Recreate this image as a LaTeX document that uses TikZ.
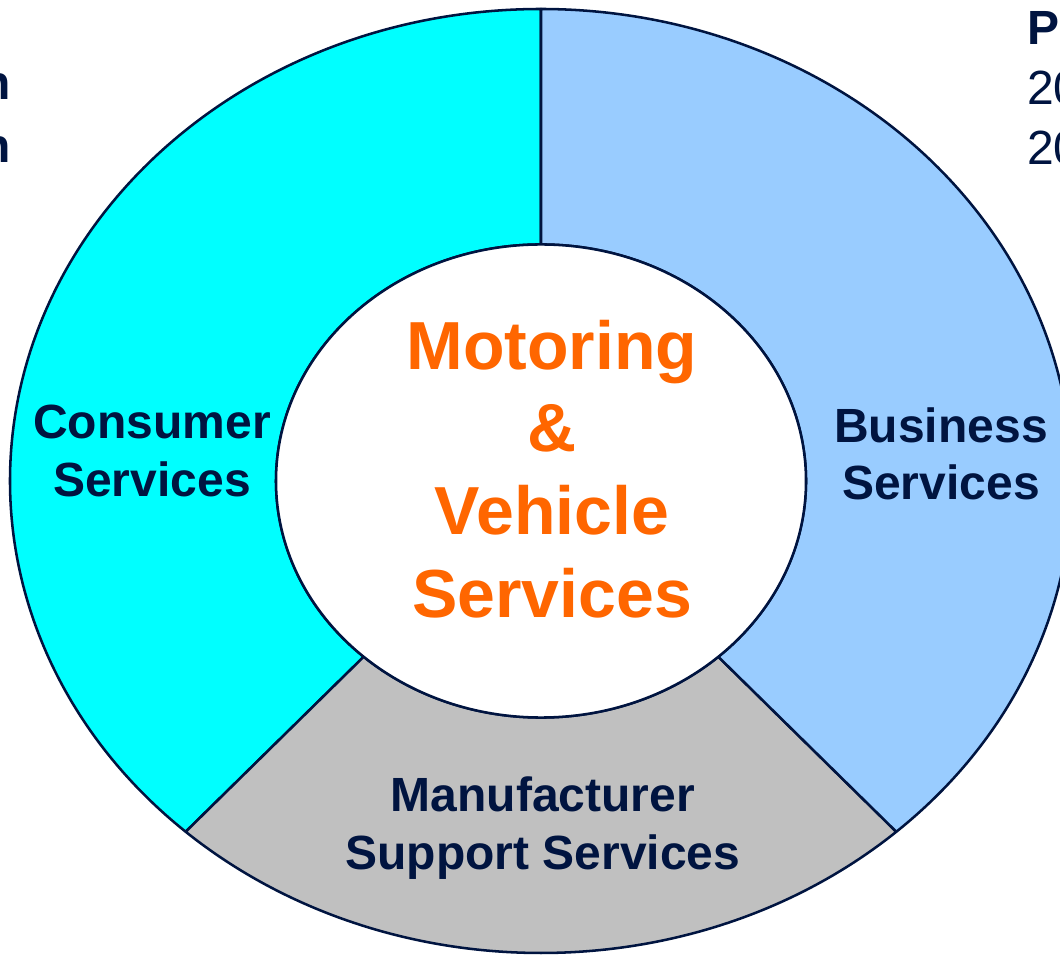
\documentclass[tikz,border=0pt]{standalone}
\usepackage{fontspec}
\setmainfont{Liberation Sans}
\begin{document}
\definecolor{navy}{RGB}{0,20,64}
\definecolor{ringcyan}{RGB}{0,255,255}
\definecolor{ringblue}{RGB}{153,204,255}
\definecolor{ringgray}{RGB}{192,192,192}
\definecolor{hubtext}{RGB}{255,102,0}
\begin{tikzpicture}[x=0.75pt,y=0.75pt,
  sector/.style={draw=navy,line width=1.9pt,line join=round},
  label/.style={font=\fontsize{36}{43}\selectfont\bfseries,text=navy,align=center,inner sep=0pt},
  hubtitle/.style={font=\fontsize{51}{62}\selectfont\bfseries,text=hubtext,align=center,inner sep=0pt},
  edge/.style={font=\fontsize{36}{43}\selectfont,text=navy,inner sep=0pt}]
\useasboundingbox (0,0) rectangle (1060,954);
\clip (0,0) rectangle (1060,954);

% ring sectors around the common centre (outer 398.25pt x 354pt, inner 198.75pt x 177.4pt)
\begin{scope}[shift={(541,473)}]
  \path[sector,fill=ringcyan] (90:398.25pt and 354pt)
    arc[start angle=90,end angle=228,x radius=398.25pt,y radius=354pt]
    -- (228:198.75pt and 177.4pt)
    arc[start angle=228,end angle=90,x radius=198.75pt,y radius=177.4pt] -- cycle;
  \path[sector,fill=ringgray] (228:398.25pt and 354pt)
    arc[start angle=228,end angle=312,x radius=398.25pt,y radius=354pt]
    -- (312:198.75pt and 177.4pt)
    arc[start angle=312,end angle=228,x radius=198.75pt,y radius=177.4pt] -- cycle;
  \path[sector,fill=ringblue] (-48:398.25pt and 354pt)
    arc[start angle=-48,end angle=90,x radius=398.25pt,y radius=354pt]
    -- (90:198.75pt and 177.4pt)
    arc[start angle=90,end angle=-48,x radius=198.75pt,y radius=177.4pt] -- cycle;
  % white hub
  \path[sector,fill=white] (0,0) ellipse[x radius=198.75pt,y radius=177.4pt];
\end{scope}

% sector labels
\node[label] (consumer) at (152,503) {Consumer\\Services};
\node[label] (business) at (941,500) {Business\\Services};
\node[label] (manufacturer) at (543,126) {Manufacturer\\Support Services};
\node[hubtitle] (hub) at (552,485) {Motoring\\\&\\Vehicle\\Services};

% text running in from the sides
\node[edge,font=\fontsize{36}{43}\selectfont\bfseries,anchor=base east] (leftA) at (11,854) {n};
\node[edge,font=\fontsize{36}{43}\selectfont\bfseries,anchor=base east] (leftB) at (11,791) {n};
\node[edge,font=\fontsize{36}{43}\selectfont\bfseries,anchor=base west] (rightA) at (1027,909) {P};
\node[edge,anchor=base west] (rightB) at (1027,849) {20};
\node[edge,anchor=base west] (rightC) at (1027,789) {20};
\end{tikzpicture}
\end{document}
